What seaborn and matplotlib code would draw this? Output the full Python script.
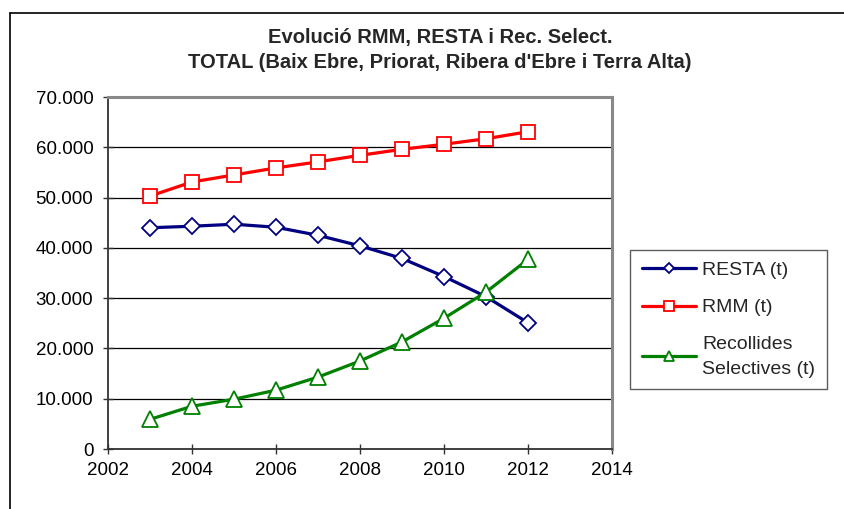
import matplotlib
matplotlib.use("Agg")
import matplotlib.pyplot as plt
import seaborn as sns
import pandas as pd
import numpy as np
from matplotlib.lines import Line2D
from matplotlib.ticker import FuncFormatter, MultipleLocator

years = [2003, 2004, 2005, 2006, 2007, 2008, 2009, 2010, 2011, 2012]
resta = [44000, 44300, 44700, 44100, 42500, 40400, 37900, 34300, 30300, 25100]
rmm = [50300, 53100, 54500, 55900, 57100, 58400, 59600, 60600, 61700, 63100]
recollides = [5900, 8500, 9900, 11700, 14300, 17500, 21300, 26000, 31200, 37700]

title_lines = ["Evolució RMM, RESTA i Rec. Select.",
               "TOTAL (Baix Ebre, Priorat, Ribera d'Ebre i Terra Alta)"]
series_labels = ["RESTA (t)", "RMM (t)", "Recollides\nSelectives (t)"]

sns.set_theme(style="white")
plt.rcParams['font.family'] = ['Liberation Sans', 'DejaVu Sans']

fig = plt.figure(figsize=(8.44, 5.09), dpi=100)
ax = fig.add_axes([108/844, 1-449/509, (612-108)/844, (449-97)/509])

df = pd.DataFrame({"year": years, "RESTA": resta, "RMM": rmm, "REC": recollides})

specs = [("RESTA", "#000080", "D", 8, series_labels[0]),
         ("RMM", "#FF0000", "s", 10, series_labels[1]),
         ("REC", "#008000", "^", 11, series_labels[2])]
for col, color, mk, ms, lab in specs:
    sns.lineplot(data=df, x="year", y=col, ax=ax, color=color, linewidth=2.3,
                 marker=mk, markersize=ms, markerfacecolor="white",
                 markeredgecolor=color, markeredgewidth=1.3, label=lab, zorder=3)

ax.set_xlim(2002, 2014)
ax.set_ylim(0, 70000)
ax.xaxis.set_major_locator(MultipleLocator(2))
ax.yaxis.set_major_locator(MultipleLocator(10000))
ax.yaxis.set_major_formatter(FuncFormatter(lambda v, p: "0" if v == 0 else f"{int(v):,}".replace(",", ".")))
ax.set_xlabel("")
ax.set_ylabel("")
ax.grid(axis="y", color="black", linewidth=0.9)
ax.grid(axis="x", visible=False)
ax.set_axisbelow(True)

for s in ["left", "bottom"]:
    ax.spines[s].set_color("#333333")
    ax.spines[s].set_linewidth(1.3)
for s in ["top", "right"]:
    ax.spines[s].set_color("#888888")
    ax.spines[s].set_linewidth(2.2)

ax.tick_params(axis="both", which="major", direction="inout", length=7, width=1,
               color="#333333", labelsize=13.5, labelcolor="black", left=True, bottom=True)
ax.tick_params(axis="y", pad=7)
ax.tick_params(axis="x", pad=6)

leg = ax.legend(loc="upper left", bbox_to_anchor=(630/844, 1-250/509), bbox_transform=fig.transFigure,
                frameon=True, fancybox=False, edgecolor="#333333", fontsize=14,
                handlelength=2.8, labelspacing=1.0, borderpad=0.6, handletextpad=0.3,
                borderaxespad=0, markerscale=0.7)
leg.get_frame().set_linewidth(1.0)
leg.get_texts()[2].set_linespacing(1.6)

fig.text(440/844, 1-37/509, title_lines[0], ha="center", va="center", fontsize=14.5,
         fontweight="bold")
fig.text(440/844, 1-63/509, title_lines[1], ha="center", va="center", fontsize=14.5,
         fontweight="bold")

fig.add_artist(Line2D([10/844, 10/844], [0, 1-13/509], transform=fig.transFigure, color="black", linewidth=1.2))
fig.add_artist(Line2D([10/844, 1], [1-13/509, 1-13/509], transform=fig.transFigure, color="black", linewidth=1.2))

fig.savefig("out.png", dpi=100)
